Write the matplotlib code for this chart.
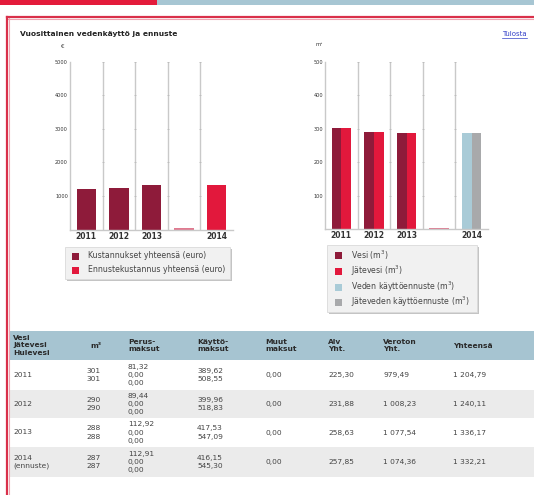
import matplotlib
matplotlib.use('Agg')
import matplotlib.pyplot as plt
from matplotlib.patches import Rectangle

plt.rcParams['font.family'] = ['DejaVu Sans']

# --- data ---
years = ['2011', '2012', '2013', '', '2014']
kustannukset = [1204.79, 1240.11, 1336.17, 0, 0]
ennustekustannus = [0, 0, 0, 0, 1332.21]
tyhja_eur = [0, 0, 0, 30, 0]          # thin placeholder bar in the empty slot
vesi = [301, 290, 288, 0, 0]
jatevesi = [301, 290, 288, 0, 0]
veden_ennuste = [0, 0, 0, 0, 287]
jateveden_ennuste = [0, 0, 0, 0, 287]
tyhja_m3 = [0, 0, 0, 3, 0]

eur_ticks = [1000, 2000, 3000, 4000, 5000]
m3_ticks = [100, 200, 300, 400, 500]

header = ['Vesi\nJätevesi\nHulevesi', 'm³', 'Perus-\nmaksut', 'Käyttö-\nmaksut',
          'Muut\nmaksut', 'Alv\nYht.', 'Veroton\nYht.', 'Yhteensä']
rivit = ['2011', '2012', '2013', '2014\n(ennuste)']
m3 = ['301\n301', '290\n290', '288\n288', '287\n287']
perus = ['81,32\n0,00\n0,00', '89,44\n0,00\n0,00', '112,92\n0,00\n0,00', '112,91\n0,00\n0,00']
kaytto = ['389,62\n508,55', '399,96\n518,83', '417,53\n547,09', '416,15\n545,30']
muut = ['0,00', '0,00', '0,00', '0,00']
alv = ['225,30', '231,88', '258,63', '257,85']
veroton = ['979,49', '1 008,23', '1 077,54', '1 074,36']
yhteensa = ['1 204,79', '1 240,11', '1 336,17', '1 332,21']

DARK = '#8e1b3a'
RED = '#e2183c'
BLUE = '#a9cbd7'
GRAY = '#a8a9ab'
PINK = '#e07a90'
GRID = '#c9c9c9'

W, H = 534, 495
fig = plt.figure(figsize=(W / 100, H / 100), dpi=100)
fig.patch.set_facecolor('white')

# page layer in pixel coordinates
page = fig.add_axes([0, 0, 1, 1])
page.set_xlim(0, W)
page.set_ylim(H, 0)
page.axis('off')


def px_axes(x0, y0, x1, y1):
    return fig.add_axes([x0 / W, 1 - y1 / H, (x1 - x0) / W, (y1 - y0) / H])


# top banner and frame
page.add_patch(Rectangle((0, 0), 157, 5, color='#e31b3b', lw=0))
page.add_patch(Rectangle((157, 0), W - 157, 5, color='#a7c6d3', lw=0))
page.plot([7, W], [17, 17], color='#d9304a', lw=1.6)
page.plot([7, W], [18.5, 18.5], color='#f0a5b2', lw=0.8)
page.plot([7, 7], [17, H], color='#d9304a', lw=1.6)
page.plot([8.5, 8.5], [18, H], color='#f0a5b2', lw=0.8)

page.text(20, 34, 'Vuosittainen vedenkäyttö ja ennuste', fontsize=5.4, fontweight='bold',
          va='center', ha='left', color='#222222')
page.text(502, 34, 'Tulosta', fontsize=5, va='center', ha='left', color='#3340c8')
page.plot([502, 527], [37.5, 37.5], color='#3340c8', lw=0.5)


def style_chart(ax, ymax, ticks):
    ax.set_xlim(0, 5)
    ax.set_ylim(0, ymax)
    for s in ['top', 'right']:
        ax.spines[s].set_visible(False)
    for s in ['left', 'bottom']:
        ax.spines[s].set_color(GRID)
        ax.spines[s].set_linewidth(1)
    for k in range(1, 5):
        ax.axvline(k, color=GRID, lw=1, zorder=0)
        ax.plot([k] * len(ticks), ticks, ls='none', marker='_', ms=2, mew=0.6,
                color='#bbbbbb', zorder=0)
    ax.set_yticks(ticks)
    ax.set_yticklabels([str(t) for t in ticks], fontsize=3.6, color='#333333')
    ax.set_xticks([i + 0.5 for i in range(5)])
    ax.set_xticklabels(years, fontsize=5.5, fontweight='bold', color='#333333')
    ax.tick_params(axis='both', length=0, pad=1.5)
    ax.patch.set_alpha(0)


xs = [i + 0.5 for i in range(5)]

ax1 = px_axes(70, 62, 233, 229.5)
ax1.bar(xs, kustannukset, width=0.6, color=DARK)
ax1.bar(xs, ennustekustannus, width=0.6, color=RED)
ax1.bar(xs, tyhja_eur, width=0.6, color=PINK)
style_chart(ax1, 5000, eur_ticks)
page.text(63, 46, '€', fontsize=4, ha='center', va='center', color='#333333')

ax2 = px_axes(325, 62, 488, 229)
ax2.bar([x - 0.15 for x in xs], vesi, width=0.3, color=DARK)
ax2.bar([x + 0.15 for x in xs], jatevesi, width=0.3, color=RED)
ax2.bar([x - 0.15 for x in xs], veden_ennuste, width=0.3, color=BLUE)
ax2.bar([x + 0.15 for x in xs], jateveden_ennuste, width=0.3, color=GRAY)
ax2.bar(xs, tyhja_m3, width=0.6, color=PINK)
style_chart(ax2, 500, m3_ticks)
page.text(319, 45, 'm³', fontsize=3.8, ha='center', va='center', color='#333333')


def legend_box(x0, y0, x1, y1, items, mx, tx):
    page.add_patch(Rectangle((x0 + 2, y0 + 2), x1 - x0, y1 - y0, color='#c4c4c4', lw=0))
    page.add_patch(Rectangle((x0, y0), x1 - x0, y1 - y0, facecolor='#f1f1f1',
                             edgecolor='#dadada', lw=0.6))
    for label, color, y in items:
        page.add_patch(Rectangle((mx - 3.5, y - 3.5), 7, 7, color=color, lw=0))
        page.text(tx, y, label, fontsize=5.6, va='center', ha='left', color='#444444')


legend_box(65, 247, 230, 279,
           [('Kustannukset yhteensä (euro)', DARK, 256),
            ('Ennustekustannus yhteensä (euro)', RED, 270)], 75, 88)
legend_box(327, 245, 477, 312,
           [('Vesi (m$^3$)', DARK, 255),
            ('Jätevesi (m$^3$)', RED, 271),
            ('Veden käyttöennuste (m$^3$)', BLUE, 287),
            ('Jäteveden käyttöennuste (m$^3$)', GRAY, 302)], 338, 351)

# table
col_x = [13, 86, 128, 197, 265, 328, 383, 453]
head_x = [13, 90, 128, 197, 265, 328, 383, 453]
page.add_patch(Rectangle((9, 331), W - 9, 29, color='#a6c4d1', lw=0))
for x, h in zip(head_x, header):
    page.text(x, 345.5, h, fontsize=5.4, fontweight='bold', va='center', ha='left',
              color='#2a2a2a', linespacing=1.3)

row_edges = [360, 390, 418, 447, 477]
for i in range(len(rivit)):
    top, bot = row_edges[i], row_edges[i + 1]
    if i % 2 == 1:
        page.add_patch(Rectangle((9, top), W - 9, bot - top, color='#ebebeb', lw=0))
    yc = (top + bot) / 2
    cells = [rivit[i], m3[i], perus[i], kaytto[i], muut[i], alv[i], veroton[i], yhteensa[i]]
    for x, c in zip(col_x, cells):
        page.text(x, yc, c, fontsize=5.4, va='center', ha='left', color='#444444',
                  linespacing=1.45)

fig.savefig('out.png', dpi=100)
